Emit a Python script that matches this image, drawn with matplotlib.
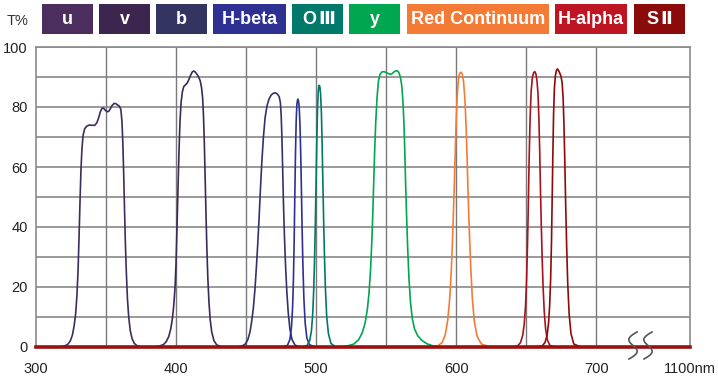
import numpy as np
import matplotlib
matplotlib.use('Agg')
import matplotlib.pyplot as plt
from matplotlib.patches import Rectangle

plt.rcParams['font.family'] = ['Liberation Sans', 'DejaVu Sans']

# ── 滤光片透过率曲线 (波长 nm, 透过率 %) ──
u_nm = [316, 320, 322.5, 324.5, 326, 327.2, 328.3, 329.2, 330, 330.7, 331.4, 332.1, 332.8,
        333.6, 334.8, 336.2, 338, 340, 342, 343.5, 344.8, 346, 347.2, 348.3, 349.5,
        350.8, 352, 353.2, 354.5, 355.8, 357, 358.2, 359.5, 360.6, 361.4, 362, 362.6,
        363.2, 363.8, 364.5, 365.3, 366.2, 367.3, 368.6, 370.2, 372.5, 376]
u_t = [0, 0.3, 0.8, 2, 4, 7, 11, 17, 25, 36, 48, 59, 66,
       70.5, 72.8, 73.6, 74, 73.9, 73.9, 74.8, 76.5, 78.5, 79.6, 79.6, 78.9,
       78.4, 78.6, 79.5, 80.6, 81.2, 81.1, 80.7, 80.3, 79.2, 75, 68, 58,
       46, 35, 25, 16, 10, 5.5, 2.8, 1.2, 0.3, 0]

v_nm = [384, 388, 391, 393, 394.8, 396.2, 397.4, 398.4, 399.3, 400, 400.7, 401.4, 402.1,
        402.8, 403.6, 404.5, 405.5, 406.8, 408, 409.2, 410.4, 411.6, 412.6, 413.6,
        414.8, 416, 417.2, 418.2, 419, 419.6, 420.2, 420.8, 421.4, 422, 422.7, 423.5,
        424.4, 425.5, 427, 429, 433]
v_t = [0, 0.3, 0.8, 1.8, 3.5, 6, 9.5, 14, 20, 28, 40, 53, 65,
       75, 81.5, 85, 86.8, 87.4, 88, 89.2, 90.6, 91.7, 92, 91.7,
       91, 90.1, 88.8, 86.5, 83, 77, 68, 56, 44, 33, 23, 15,
       9, 5, 2.2, 0.7, 0]

b_nm = [443, 447, 449.5, 451.3, 452.8, 454, 455.2, 456.3, 457.3, 458.3, 459.3, 460.3,
        461.3, 462.4, 463.6, 465, 466.5, 468, 469.5, 471, 472.4, 473.6, 474.5, 475.1,
        475.6, 476.1, 476.7, 477.4, 478.2, 479.1, 480.1, 481.3, 482.8, 485, 489]
b_t = [0, 0.3, 1, 2.5, 5, 8.5, 13, 19, 26, 34, 43, 53,
       62, 70, 76.5, 80.5, 82.8, 84, 84.6, 84.7, 84.3, 83.5, 81.5, 77,
       70, 60, 48, 37, 27, 18.5, 11.5, 6, 2.5, 0.6, 0]

hb_nm = [476, 479.5, 481.3, 482.4, 483.2, 483.8, 484.3, 484.8, 485.3, 485.8, 486.3,
         486.9, 487.5, 488, 488.5, 489, 489.5, 490, 490.6, 491.3, 492.2, 493.4, 495.2, 499]
hb_t = [0, 0.5, 2.5, 6.5, 13, 22, 34, 50, 65, 75.5, 81,
        82.6, 82, 79.5, 74, 65, 53, 40, 27, 16, 8, 3, 0.8, 0]

o3_nm = [490, 493.5, 495.5, 496.7, 497.6, 498.3, 498.9, 499.5, 500, 500.5, 501, 501.5,
         502, 502.6, 503.2, 503.8, 504.3, 504.8, 505.4, 506, 506.7, 507.6, 508.8, 510.6, 514]
o3_t = [0, 0.5, 2.2, 5.5, 11, 19, 29, 42, 55, 68, 79, 85,
        87.2, 87, 84.5, 78, 68, 56, 42, 30, 19, 10, 4.5, 1.2, 0]

y_nm = [515, 522, 527, 530.5, 533, 535, 536.6, 537.8, 538.8, 539.6, 540.4, 541.1,
        541.8, 542.6, 543.5, 544.5, 545.6, 547, 548.5, 550, 551.5, 553, 554.2, 555.4,
        556.6, 557.8, 559, 560.2, 561.2, 562, 562.7, 563.3, 563.9, 564.6, 565.4, 566.3,
        567.4, 568.7, 570.3, 572.5, 575.5, 579.5, 584, 590]
y_t = [0, 0.3, 1, 2.5, 4.8, 8, 12.5, 18, 25, 33, 43, 54,
       65, 75, 83, 88.5, 90.8, 91.7, 91.8, 91.5, 91.2, 90.9, 91.1, 91.6,
       92, 92.1, 91.6, 90, 87, 82, 75, 66, 55, 44, 33, 23,
       15, 9.5, 6, 3.8, 2.2, 1, 0.3, 0]

rc_nm = [582, 587, 590, 592.2, 594, 595.4, 596.6, 597.6, 598.5, 599.3, 600, 600.8,
         601.7, 602.6, 603.5, 604.4, 605.3, 606.2, 607, 607.7, 608.5, 609.4, 610.4,
         611.6, 613, 615, 618, 624]
rc_t = [0, 0.4, 1.5, 4, 9, 16, 26, 38, 51, 64, 75, 84,
        89.5, 91.3, 91.6, 91, 88.5, 83, 75, 65, 52, 39, 27,
        16, 8.5, 3.5, 1, 0]

ha_nm = [640, 644, 646, 647.6, 648.7, 649.6, 650.3, 650.9, 651.5, 652.1, 652.8, 653.6,
         654.5, 655.4, 656.2, 657, 657.8, 658.5, 659.1, 659.7, 660.2, 660.8, 661.4,
         662.1, 662.9, 663.9, 665.2, 667, 671]
ha_t = [0, 0.4, 1.5, 4, 8, 14, 22, 33, 46, 62, 76, 85.5,
        90, 91.5, 91.8, 91, 88.5, 84, 76, 65, 53, 41, 30,
        20, 12, 6, 2.3, 0.5, 0]

s2_nm = [657, 661.5, 663.5, 665, 666, 666.8, 667.5, 668.1, 668.6, 669.1, 669.6, 670.2,
         670.9, 671.6, 672.3, 673.1, 674, 674.9, 675.7, 676.4, 677, 677.6, 678.2,
         678.9, 679.7, 680.7, 682, 684, 689]
s2_t = [0, 0.4, 1.5, 4, 8, 14, 23, 35, 50, 65, 78, 86.5,
        90.5, 92.2, 92.7, 92.2, 91.3, 90.2, 88, 83, 74, 62, 48,
        34, 21, 11, 4.5, 1, 0]

curves = [(u_nm, u_t), (v_nm, v_t), (b_nm, b_t), (hb_nm, hb_t), (o3_nm, o3_t),
          (y_nm, y_t), (rc_nm, rc_t), (ha_nm, ha_t), (s2_nm, s2_t)]
curve_colors = ['#3f2c5c', '#3b2a58', '#30326a', '#2e3192', '#00786a',
                '#00a650', '#f47b35', '#a8121c', '#8e0a0a']

# ── 图例 ──
legend_names = ['u', 'v', 'b', 'H-beta', 'O\u2162', 'y', 'Red Continuum', 'H-alpha', 'S\u2161']
legend_colors = ['#4b2d5e', '#3c2650', '#33345f', '#2e3192', '#00786a',
                 '#00a650', '#f47b35', '#be1522', '#8b0a0a']

xticks = [300, 400, 500, 600, 700, 767]
xtick_labels = ['300', '400', '500', '600', '700', '1100nm']
yticks = [0, 20, 40, 60, 80, 100]

W, H = 718, 378
fig = plt.figure(figsize=(W / 100, H / 100), dpi=100)
ax = fig.add_axes([36 / W, 31 / H, 654 / W, 300 / H])
ax.set_xlim(300, 767)
ax.set_ylim(0, 100)

# 网格
for yv in range(10, 101, 10):
    ax.axhline(yv, color='#9a9a9a', lw=1.4, zorder=1)
for xv in range(350, 701, 50):
    ax.axvline(xv, color='#7a7a7a', lw=1.0, zorder=1)

for (xs, ts), c in zip(curves, curve_colors):
    ax.plot(xs, ts, color=c, lw=1.2, zorder=3, solid_joinstyle='round')

ax.axhline(0, color='#9b0f0f', lw=2.6, zorder=5, clip_on=False)

for side in ['left', 'right', 'top']:
    ax.spines[side].set_color('#8a8a8a')
    ax.spines[side].set_linewidth(1.2)
ax.spines['bottom'].set_visible(False)

ax.set_xticks(xticks)
ax.set_xticklabels(xtick_labels)
ax.set_yticks(yticks)
ax.tick_params(length=0, labelsize=10.5, colors='#222222')
ax.tick_params(axis='x', pad=11)
ax.tick_params(axis='y', pad=6)

# 断轴符号
t = np.linspace(0, 1, 60)
for cx in [633, 648]:
    xs = cx - 6 * np.sin(2 * np.pi * t) + 8 * (0.5 - t)
    ys = 332 + 27 * t
    fig.add_artist(plt.Line2D(xs / W, 1 - ys / H, color='#555555', lw=1.2,
                              transform=fig.transFigure, zorder=10))

fig.text(7 / W, 1 - 21 / H, 'T%', fontsize=10.5, color='#333333', va='center', ha='left')

box_x = [42, 99, 156, 213, 292, 349, 407, 555, 634]
box_w = [51, 51, 51, 73, 51, 51, 142, 72, 51]
for name, c, x0, w in zip(legend_names, legend_colors, box_x, box_w):
    fig.add_artist(Rectangle((x0 / W, 1 - 34 / H), w / W, 30 / H, facecolor=c,
                             edgecolor='none', transform=fig.transFigure))
    if name[-1] in '\u2161\u2162':
        # 罗马数字用带横杠的字形
        cx = (x0 + w / 2) / W
        fig.text(cx - 1 / W, 1 - 19.5 / H, name[0], color='white', fontsize=13,
                 fontweight='bold', ha='right', va='center')
        fig.text(cx + 1 / W, 1 - 19.5 / H, name[1], color='white', fontsize=13,
                 fontweight='bold', ha='left', va='center', family='DejaVu Sans')
    else:
        fig.text((x0 + w / 2) / W, 1 - 19.5 / H, name, color='white', fontsize=13,
                 fontweight='bold', ha='center', va='center')

fig.savefig('out.png', dpi=100)
